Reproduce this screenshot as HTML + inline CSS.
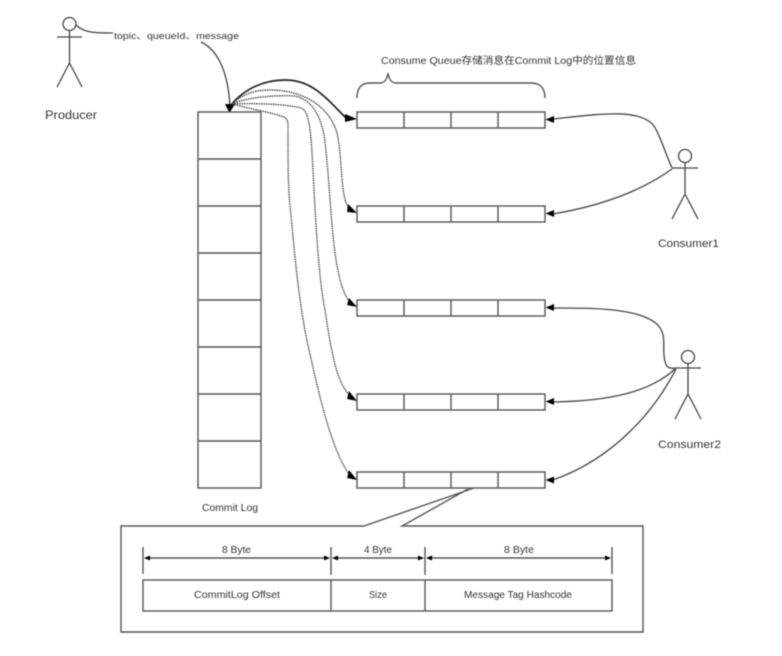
<!DOCTYPE html>
<html>
<head>
<meta charset="utf-8">
<style>
html,body{margin:0;padding:0;background:#fff;width:782px;height:656px;overflow:hidden}
svg{display:block;filter:blur(0.5px)}
text{font-family:"Liberation Sans","Noto Sans CJK SC",sans-serif;fill:#333;font-size:10px}
.s{fill:none;stroke:#444;stroke-width:1.3}
.b{fill:none;stroke:#555;stroke-width:1.4}
.d{fill:none;stroke:#444;stroke-width:1.3;stroke-dasharray:1.6 0.8}
.a{fill:#000;stroke:none}
</style>
</head>
<body>
<svg width="782" height="656" viewBox="0 0 782 656" xmlns="http://www.w3.org/2000/svg">
<!-- Producer -->
<g class="s">
<circle cx="69.5" cy="24" r="6.5"/>
<path d="M69.5 30.5V63M57 37H82M69.5 63L57 87M69.5 63L82 87"/>
</g>
<text x="45" y="119" style="font-size:11.5px" textLength="52" lengthAdjust="spacingAndGlyphs">Producer</text>
<text x="114" y="39" style="font-size:9.5px" textLength="125" lengthAdjust="spacingAndGlyphs">topic、queueId、message</text>
<path class="s" d="M76 25C84 33 96 33 113 33"/>
<path class="s" d="M201 42C218 50 228 72 230 106"/>
<path class="a" d="M225 104L235 104L229.5 113Z"/>

<!-- Commit Log -->
<g class="b">
<rect x="198" y="112" width="63" height="376"/>
<path d="M198 159H261M198 206H261M198 253H261M198 300H261M198 347H261M198 394H261M198 441H261"/>
</g>
<text x="202" y="511" textLength="56" lengthAdjust="spacingAndGlyphs">Commit Log</text>

<!-- Queues -->
<g class="b">
<rect x="357" y="112" width="188" height="16"/><path d="M404 112V128M451 112V128M498 112V128"/>
<rect x="357" y="206" width="188" height="16"/><path d="M404 206V222M451 206V222M498 206V222"/>
<rect x="357" y="300" width="188" height="16"/><path d="M404 300V316M451 300V316M498 300V316"/>
<rect x="357" y="394" width="188" height="16"/><path d="M404 394V410M451 394V410M498 394V410"/>
<rect x="357" y="472" width="188" height="16"/><path d="M404 472V488M451 472V488M498 472V488"/>
</g>

<!-- Brace -->
<path class="b" d="M357 98C357 88 361 83 370 83H380C385 83 387 79 388 73C389 79 391 83 396 83H531C540 83 545 88 545 98"/>
<text x="381" y="64" textLength="255" lengthAdjust="spacingAndGlyphs">Consume Queue存储消息在Commit Log中的位置信息</text>

<!-- Commit log to queues -->
<path d="M231 105C245 88 265 80 285 80C312 80 325 97 346 118" fill="none" stroke="#222" stroke-width="1.7"/>
<path class="a" d="M345 114L357 119L345 122Z"/>
<path class="d" d="M232 104C245 92 258 90 270 90C305 90 330 108 337 133C343 160 340 198 349 208"/>
<path class="a" d="M348 204L357 213L347 212Z"/>
<path class="d" d="M232 104C248 97 275 95 295 96C312 100 320 115 324 135C332 190 330 275 349 301"/>
<path class="a" d="M349 298L357 307L347 305Z"/>
<path class="d" d="M232 104C255 103 285 104 301 108C310 111 311 135 313 170C316 230 319 280 325 310C331 350 336 380 349 395"/>
<path class="a" d="M349 391L357 401L347 399Z"/>
<path class="d" d="M232 104C250 109 270 112 284 117C288 119 288 122 288 130C288 170 288 190 291 215C295 260 300 310 308 345C320 400 332 450 349 474"/>
<path class="a" d="M349 470L357 480L347 478Z"/>

<!-- Consumer 1 -->
<g class="s">
<circle cx="685" cy="156" r="6.5"/>
<path d="M685 162.500V194M672 168H698M685 194L672 219M685 194L698 219"/>
<path d="M672 168C664 150 660 135 654 126C640 108 600 114 553 119"/>
<path d="M672 169C640 192 600 206 553 214"/>
</g>
<path class="a" d="M545.500 119.500L554 116V123Z"/>
<path class="a" d="M545.500 213.500L554 210V217Z"/>
<text x="658" y="247" textLength="61" lengthAdjust="spacingAndGlyphs" style="font-size:11px">Consumer1</text>

<!-- Consumer 2 -->
<g class="s">
<circle cx="688" cy="357" r="6.500"/>
<path d="M688 363.500V394M675 368H701M688 394L675 419M688 394L701 419"/>
<path d="M675 368C668 369 665 367 664 355C663 342 666 335 658 325C640 308 595 308 553 308"/>
<path d="M675 369C650 392 610 401 553 402"/>
<path d="M676 369C655 410 615 458 553 480"/>
</g>
<path class="a" d="M545.500 307.500L554 304V311Z"/>
<path class="a" d="M545.500 401.500L554 398V405Z"/>
<path class="a" d="M545.500 480L554 476.500V483.500Z"/>
<text x="658" y="448" textLength="63" lengthAdjust="spacingAndGlyphs" style="font-size:11px">Consumer2</text>

<!-- Detail box -->
<path class="b" d="M364 526H121V632H643V526H402L468 489M364 526L474 488"/>
<g class="b">
<rect x="143" y="580" width="469" height="31"/>
<path d="M331 580V611M425 580V611"/>
<path d="M143 547V574M331 547V575M425 547V575M612 547V574"/>
<path d="M146 558H328M334 558H422M428 558H609"/>
</g>
<g class="a">
<path d="M144 558L150 555.500V560.500Z"/><path d="M330 558L324 555.500V560.500Z"/>
<path d="M332 558L338 555.500V560.500Z"/><path d="M424 558L418 555.500V560.500Z"/>
<path d="M426 558L432 555.500V560.500Z"/><path d="M611 558L605 555.500V560.500Z"/>
</g>
<text x="222" y="553" textLength="29" lengthAdjust="spacingAndGlyphs">8 Byte</text>
<text x="364" y="553" textLength="28" lengthAdjust="spacingAndGlyphs">4 Byte</text>
<text x="504" y="553" textLength="30" lengthAdjust="spacingAndGlyphs">8 Byte</text>
<text x="194" y="598" textLength="86" lengthAdjust="spacingAndGlyphs">CommitLog Offset</text>
<text x="369" y="598" textLength="18" lengthAdjust="spacingAndGlyphs">Size</text>
<text x="464" y="598" textLength="108" lengthAdjust="spacingAndGlyphs">Message Tag Hashcode</text>
</svg>
</body>
</html>
